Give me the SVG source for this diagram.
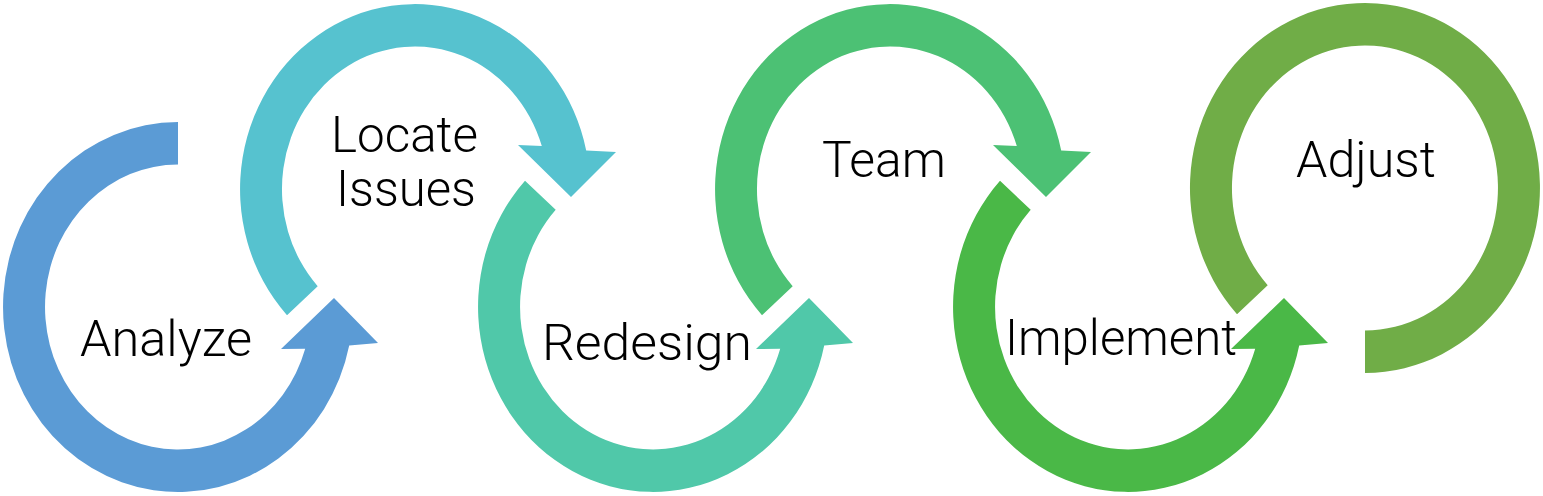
<svg xmlns="http://www.w3.org/2000/svg" width="1543" height="496" viewBox="0 0 1543 496">
<style>
.lbl{font-family:Roboto,"Liberation Sans",Arial,sans-serif;font-weight:300;font-size:50px;fill:#000}
</style>
<rect x="0" y="0" width="1543" height="496" fill="#fff"/>
<g id="connectors">
<path id="arrow-analyze" fill="#5B9BD5" d="M178,122 A175,185 0 1 0 349.2,345.5 L378,343 L334,298 L281,349 L305.2,348.7 A133,142.5 0 1 1 178,164.5 Z"/>
<path id="arrow-locate" fill="#56C2CF" d="M287,315.2 A175,185 0 1 1 586.2,150.5 L616,152 L571,197 L518,145 L541.8,146.1 A133,142.5 0 1 0 317.7,286.2 Z"/>
<path id="arrow-redesign" fill="#50C8A9" d="M525,180.8 A175,185 0 1 0 824.2,345.5 L853,343 L809,298 L756,349 L780.2,348.7 A133,142.5 0 1 1 555.7,209.8 Z"/>
<path id="arrow-team" fill="#4CC174" d="M762,315.2 A175,185 0 1 1 1061.2,150.5 L1091,152 L1046,197 L993,145 L1016.8,146.1 A133,142.5 0 1 0 792.7,286.2 Z"/>
<path id="arrow-implement" fill="#4AB847" d="M1000,180.8 A175,185 0 1 0 1299.2,345.5 L1328,343 L1284,298 L1231,349 L1255.2,348.7 A133,142.5 0 1 1 1030.7,209.8 Z"/>
<path id="arrow-adjust" fill="#70AD47" d="M1237,314.2 A175,185 0 1 1 1365,373 L1365,330.5 A133,142.5 0 1 0 1267.7,285.2 Z"/>
</g>
<g id="node-analyze"><text class="lbl" x="80" y="356" textLength="172" lengthAdjust="spacingAndGlyphs">Analyze</text></g>
<g id="node-locate"><text class="lbl" x="331" y="152" textLength="147" lengthAdjust="spacingAndGlyphs">Locate</text><text class="lbl" x="336" y="206" textLength="140" lengthAdjust="spacingAndGlyphs">Issues</text></g>
<g id="node-redesign"><text class="lbl" x="542" y="360" textLength="210" lengthAdjust="spacingAndGlyphs">Redesign</text></g>
<g id="node-team"><text class="lbl" x="822" y="177" textLength="124" lengthAdjust="spacingAndGlyphs">Team</text></g>
<g id="node-implement"><text class="lbl" x="1005" y="355" textLength="232" lengthAdjust="spacingAndGlyphs">Implement</text></g>
<g id="node-adjust"><text class="lbl" x="1296" y="177" textLength="140" lengthAdjust="spacingAndGlyphs">Adjust</text></g>
</svg>
